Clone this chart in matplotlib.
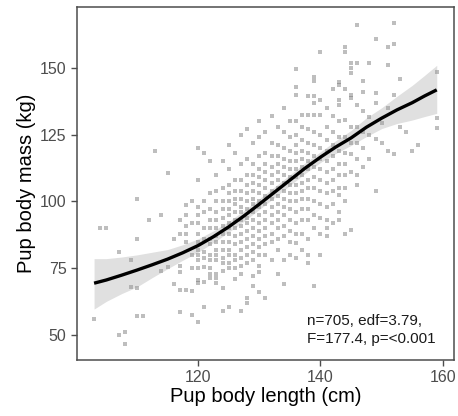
import matplotlib.pyplot as plt

# pup body length columns (cm) and the masses (kg) measured in each column
col_length = [103, 104, 105, 107, 108, 109, 110, 111, 112, 113, 114, 115, 116, 117, 118, 119,
              120, 121, 122, 123, 124, 125, 126, 127, 128, 129, 130, 131, 132, 133, 134, 135,
              136, 137, 138, 139, 140, 141, 142, 143, 144, 145, 146, 147, 148, 149, 150, 151,
              152, 153, 154, 155, 156, 159]
col_mass = [
    [56], [90], [90], [81, 50], [51, 46.7], [78, 68], [101, 86, 67.5, 57], [57], [93], [119],
    [95, 74], [110.8, 75.6], [86, 69], [93, 88, 76, 73.5, 67, 58.5],
    [98.5, 95, 91, 88, 85, 67], [100, 92, 80, 75, 66.5, 57.5],
    [120, 108, 98, 95, 92, 88, 85, 82, 80, 78, 75, 70.5, 69.5, 55],
    [118, 100, 96, 90, 86, 81, 79, 75.4, 70, 60.5],
    [115, 103, 97, 93, 90, 86, 84, 80, 78, 75, 73, 71.5],
    [110, 104, 100, 96, 93, 90, 87, 85, 82, 80, 78, 73, 71.5, 69.5],
    [115, 105, 100, 97, 94, 91, 88, 85, 82, 79, 77, 74, 67.5, 59],
    [121, 112, 106, 103, 100, 97, 95, 92, 90, 88, 85, 82, 80, 77, 75, 60.5],
    [118, 108, 104, 101, 99, 96, 93, 90, 87, 84, 80, 78, 75, 71],
    [125, 114, 108, 104, 101, 98, 96, 93, 91, 88, 85, 82, 79, 76, 73, 59],
    [127, 116, 110, 106, 103, 100, 97, 94, 92, 89, 86, 83, 80, 77, 64, 62],
    [122, 114, 110, 107, 104, 101, 99, 96, 93, 90, 87, 84, 81, 78, 72, 68.5],
    [130, 124, 117, 112, 109, 106, 103, 100, 98, 95, 92, 89, 86, 83, 80, 76, 73.5, 66],
    [126, 118, 114, 111, 108, 105, 102, 99, 96, 93, 90, 87, 84, 80, 64],
    [132, 122, 117, 113, 110, 107, 104, 101, 98, 95, 92, 88, 85, 78],
    [128, 121, 117, 114, 111, 108, 105, 102, 99, 96, 93, 90, 86, 82, 73],
    [135, 126, 120, 116, 113, 110, 107, 104, 101, 98, 95, 91, 87, 78, 69],
    [130, 124, 119, 115, 112, 109, 106, 103, 100, 97, 93, 89, 85, 80],
    [149.6, 143, 140, 130, 125, 121, 118, 115, 112, 109, 106, 103, 100, 96, 92, 88, 84.3, 79],
    [132.5, 128, 123, 119, 116, 113, 110, 107, 104, 101, 97, 93, 88, 82],
    [139.5, 132.5, 127, 122, 118, 115, 112, 108, 105, 101, 97, 93, 86, 80, 77],
    [146.6, 145, 139.5, 137, 132.5, 126, 121, 117, 113, 109, 105, 100, 95, 90, 68.5],
    [156, 138, 132.5, 125, 120, 116, 112, 108, 104, 99, 94, 88, 80],
    [135, 128, 123, 119, 115, 111, 107, 103, 98, 93, 90, 87],
    [142, 132, 126, 121, 117, 112, 108, 104, 99, 92],
    [144.8, 143.6, 138, 136, 130, 124, 119, 114, 110, 105, 102.6, 96, 93],
    [158, 156, 142, 130.6, 124, 118, 114, 110, 105, 100, 87.7],
    [152, 150, 148, 140, 138.8, 128, 122, 117.6, 111, 89.5],
    [166, 152, 136, 128, 122, 116, 110, 106],
    [145, 141, 134, 126, 120, 113],
    [152, 131.7, 125, 116],
    [161, 140.6, 137, 123.5, 104],
    [129.5, 122],
    [158, 151, 135, 119],
    [167, 159, 140, 117.6],
    [146, 128],
    [126],
    [119],
    [121],
    [148.5, 131.3, 127.6],
]

# GAM smooth and its confidence band
fit_length = [103, 105, 107.5, 110, 112.5, 115, 117.5, 120, 122.5, 125, 127.5, 130, 132.5,
              135, 137.5, 140, 142.5, 145, 147.5, 150, 152.5, 155, 157, 159]
fit_mass = [69.4, 70.6, 72.4, 74.3, 76.3, 78.4, 80.8, 83.5, 86.8, 90.5, 94.6, 99.0, 103.5,
            108.0, 112.5, 116.6, 120.4, 123.8, 127.8, 131.2, 134.3, 137.0, 139.5, 141.8]
ci_low = [59.7, 62.6, 65.5, 68.0, 71.5, 74.8, 78.0, 81.0, 84.6, 88.5, 92.6, 97.0, 101.5,
          106.0, 110.5, 114.6, 118.0, 121.0, 124.3, 127.3, 129.2, 130.5, 131.8, 133.0]
ci_high = [78.6, 78.6, 79.2, 80.0, 81.0, 82.0, 83.8, 86.0, 89.0, 92.5, 96.6, 101.0, 105.5,
           110.0, 114.5, 118.6, 122.8, 126.6, 131.3, 135.1, 139.4, 143.5, 147.2, 151.0]

x_ticks = [120, 140, 160]
y_ticks = [50, 75, 100, 125, 150]
stats_label = 'n=705, edf=3.79,\nF=177.4, p=<0.001'

pup_length = []
pup_mass = []
for length, masses in zip(col_length, col_mass):
    pup_length += [length] * len(masses)
    pup_mass += masses

plt.rcParams['font.family'] = ['Liberation Sans', 'DejaVu Sans']

fig, ax = plt.subplots(figsize=(4.58, 4.16), dpi=100)
fig.subplots_adjust(left=0.168, right=0.991, top=0.983, bottom=0.135)

ax.scatter(pup_length, pup_mass, s=7, marker='s', color='#707070', alpha=0.45, linewidths=0, zorder=1)
ax.fill_between(fit_length, ci_low, ci_high, color='#999999', alpha=0.3, linewidth=0, zorder=2)
ax.plot(fit_length, fit_mass, color='black', linewidth=2.4, zorder=3,
        solid_capstyle='butt', solid_joinstyle='round')

ax.text(0.61, 0.04, stats_label, transform=ax.transAxes, ha='left', va='bottom',
        fontsize=11, color='#1a1a1a', linespacing=1.35)

ax.set_xlim(100.2, 161.8)
ax.set_ylim(40.7, 172.8)
ax.set_xticks(x_ticks)
ax.set_yticks(y_ticks)
ax.tick_params(direction='out', length=4, width=1, color='#4d4d4d', labelcolor='#4d4d4d', labelsize=11.5)
for side in ['left', 'bottom', 'top', 'right']:
    ax.spines[side].set_color('#4d4d4d')
    ax.spines[side].set_linewidth(1.1)

ax.set_xlabel('Pup body length (cm)', fontsize=14.5, labelpad=1)
ax.set_ylabel('Pup body mass (kg)', fontsize=14.5, labelpad=3)

plt.savefig('out.png', dpi=100)
plt.close()
